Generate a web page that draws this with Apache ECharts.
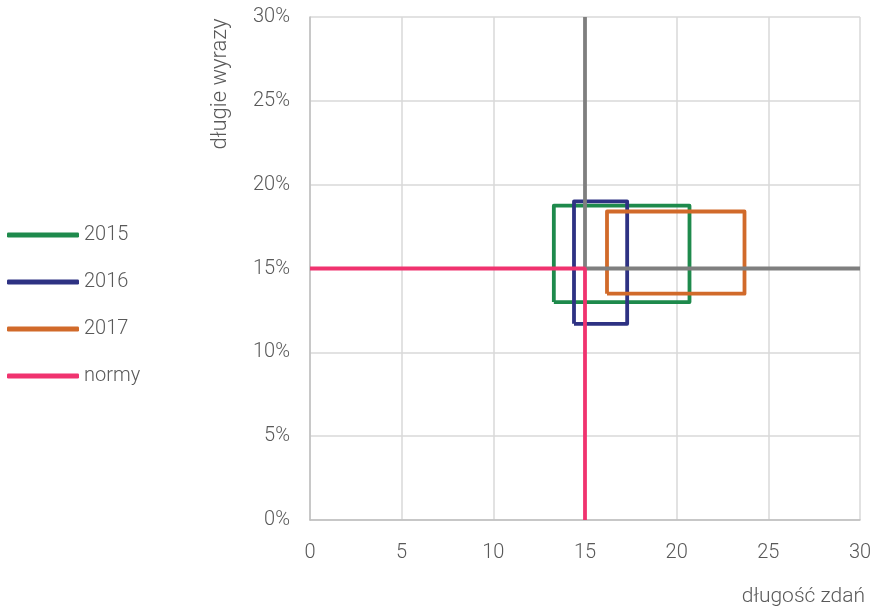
<!DOCTYPE html>
<html><head><meta charset="utf-8">
<script src="https://cdn.jsdelivr.net/npm/echarts@6/dist/echarts.min.js"></script>
<style>html,body{margin:0;padding:0;background:#fff}#c{width:886px;height:610px}</style>
</head><body><div id="c"></div>
<script>
const seriesNames = ['2015', '2016', '2017', 'normy'];
const colors = ['#1E8A4C', '#2E3283', '#D16A2A', '#F0336F'];
const xRange = [[13.3, 20.7], [14.4, 17.3], [16.2, 23.7]];
const yRange = [[13.0, 18.75], [11.7, 19.0], [13.5, 18.4]];
const normyX = [0, 15, 15];
const normyY = [15, 15, 0];
const guideX = [15, 15, 30];
const guideY = [30, 15, 15];
const xTicks = [0, 5, 10, 15, 20, 25, 30];
const yTicks = [0, 5, 10, 15, 20, 25, 30];

function rect(xr, yr) {
  return [[xr[0], yr[0]], [xr[0], yr[1]], [xr[1], yr[1]], [xr[1], yr[0]], [xr[0], yr[0]]];
}
const font = 'Roboto';
const txt = '#595959';
const series = [];
for (let i = 0; i < 3; i++) {
  series.push({name: seriesNames[i], type: 'line', data: rect(xRange[i], yRange[i]), showSymbol: false, symbol: 'none',
    lineStyle: {width: 3.8, color: colors[i], join: 'round'}, itemStyle: {color: colors[i]}, z: 2 + i, silent: true});
}
series.push({name: 'guide', type: 'line', data: guideX.map((v, i) => [v, guideY[i]]), symbol: 'none',
  lineStyle: {width: 3.8, color: '#7F7F7F'}, itemStyle: {color: '#7F7F7F'}, z: 6});
series.push({name: seriesNames[3], type: 'line', data: normyX.map((v, i) => [v, normyY[i]]), symbol: 'none',
  lineStyle: {width: 3.8, color: colors[3]}, itemStyle: {color: colors[3]}, z: 7});

const chart = echarts.init(document.getElementById('c'), null, {renderer: 'canvas'});
chart.setOption({
  animation: false,
  textStyle: {fontFamily: font},
  grid: {left: 310, right: 26, top: 17, bottom: 90},
  legend: {
    data: seriesNames, orient: 'vertical', left: 2, top: 220, itemGap: 27,
    itemWidth: 72, itemHeight: 5, icon: 'roundRect', itemStyle: {borderWidth: 0},
    textStyle: {fontSize: 20, color: txt, fontFamily: font, fontWeight: 300}
  },
  xAxis: {
    type: 'value', min: xTicks[0], max: xTicks[xTicks.length - 1], interval: 5,
    axisLine: {show: true, lineStyle: {color: '#BFBFBF', width: 1.5}}, axisTick: {show: false},
    splitLine: {show: true, lineStyle: {color: '#D9D9D9', width: 1.5}},
    axisLabel: {fontSize: 20, color: txt, margin: 23, fontWeight: 300}
  },
  yAxis: {
    type: 'value', min: yTicks[0], max: yTicks[yTicks.length - 1], interval: 5,
    axisLine: {show: true, lineStyle: {color: '#BFBFBF', width: 1.5}}, axisTick: {show: false},
    splitLine: {show: true, lineStyle: {color: '#D9D9D9', width: 1.5}},
    axisLabel: {fontSize: 20, color: txt, margin: 20, formatter: '{value}%', fontWeight: 300}
  },
  graphic: [
    {type: 'text', x: 220, y: 84, rotation: Math.PI / 2,
      style: {text: 'długie wyrazy', font: '300 22px Roboto', fill: txt, align: 'center', verticalAlign: 'middle'}},
    {type: 'text', x: 865, y: 597,
      style: {text: 'długość zdań', font: '300 21px Roboto', fill: txt, align: 'right', verticalAlign: 'middle'}}
  ],
  series: series
});
</script></body></html>
